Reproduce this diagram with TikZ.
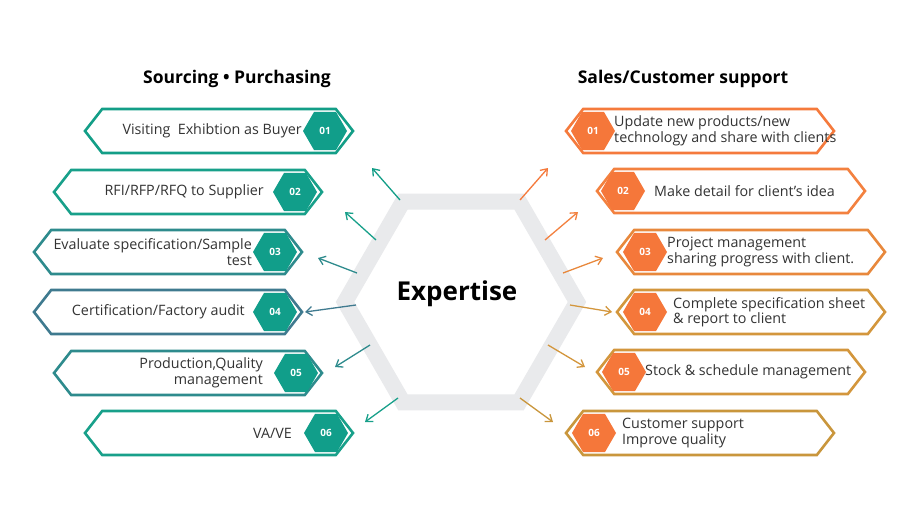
\documentclass[tikz,border=0pt]{standalone}
\usepackage{fontspec}
\setmainfont{Open Sans}
\usetikzlibrary{shapes.symbols,shapes.geometric,arrows.meta}
\definecolor{tA}{HTML}{139E87}\definecolor{tB}{HTML}{18A08A}\definecolor{tC}{HTML}{2E8B8D}\definecolor{tD}{HTML}{3F7A8F}
\definecolor{oA}{HTML}{F57A3C}\definecolor{oB}{HTML}{F3813F}\definecolor{oC}{HTML}{E8883C}\definecolor{oD}{HTML}{D3963C}\definecolor{oE}{HTML}{C9963C}
\definecolor{teal}{HTML}{119E8A}\definecolor{orng}{HTML}{F5773A}\definecolor{hexg}{HTML}{E9EAEC}\definecolor{txt}{HTML}{333333}
\tikzset{
 box/.style={signal, signal to=west and east, signal pointer angle=104, minimum width=268pt, minimum height=44pt, line width=2.6pt, draw=#1, fill=white, inner sep=0pt},
 badge/.style={regular polygon, regular polygon sides=6, minimum size=44pt, inner sep=0pt, fill=#1, text=white, font=\bfseries\fontsize{10}{10}\selectfont},
 lbl/.style={text=txt, font=\fontsize{14.3}{15.5}\selectfont, inner sep=0pt},
 arr/.style={draw=#1, line width=1.3pt, -{Straight Barb[length=6pt,width=9pt]}},
 title/.style={font=\bfseries\fontsize{17.5}{20}\selectfont, text=black}
}
\begin{document}
\begin{tikzpicture}[x=1pt,y=-1pt]
\useasboundingbox (0,0) rectangle (920,517);
\fill[white] (0,0) rectangle (920,517);
\node[title] (t1) at (237,79) {Sourcing • Purchasing};
\node[title] (t2) at (683,79) {Sales/Customer support};
\node[regular polygon, regular polygon sides=6, minimum size=232pt, draw=hexg, line width=16pt] (hex) at (461,302) {};
\node[font=\bfseries\fontsize{26}{30}\selectfont, text=black] (ex) at (457,294) {Expertise};
% left boxes
\node[box=tA] (L1) at (219,131) {};
\node[box=tB] (L2) at (188,192) {};
\node[box=tC] (L3) at (168,252) {};
\node[box=tD] (L4) at (168,312) {};
\node[box=tC] (L5) at (188,373) {};
\node[box=tB] (L6) at (219,433) {};
\node[badge=teal] (LB1) at (325,131) {01};
\node[badge=teal] (LB2) at (295,192) {02};
\node[badge=teal] (LB3) at (275,252) {03};
\node[badge=teal] (LB4) at (275,312) {04};
\node[badge=teal] (LB5) at (296,373) {05};
\node[badge=teal] (LB6) at (326,433) {06};
\node[lbl, anchor=east] (LT1) at (302,131) {Visiting\ \ Exhibtion as Buyer};
\node[lbl, anchor=east] (LT2) at (264,192) {RFI/RFP/RFQ to Supplier};
\node[lbl, anchor=east, align=right] (LT3) at (252,252) {Evaluate specification/Sample\\test};
\node[lbl, anchor=east] (LT4) at (245,312) {Certification/Factory audit};
\node[lbl, anchor=east, align=right] (LT5) at (263,373) {Production,Quality\\management};
\node[lbl, anchor=east] (LT6) at (292,433) {VA/VE};
% right boxes
\node[box=oA] (R1) at (700,131) {};
\node[box=oB] (R2) at (731,191) {};
\node[box=oC] (R3) at (751,252) {};
\node[box=oD] (R4) at (751,312) {};
\node[box=oD] (R5) at (731,372) {};
\node[box=oE] (R6) at (700,433) {};
\node[badge=orng] (RB1) at (593,131) {01};
\node[badge=orng] (RB2) at (623,191) {02};
\node[badge=orng] (RB3) at (645,252) {03};
\node[badge=orng] (RB4) at (645,312) {04};
\node[badge=orng] (RB5) at (624,372) {05};
\node[badge=orng] (RB6) at (594,433) {06};
\node[lbl, anchor=west, align=left] (RT1) at (614,131) {Update new products/new\\technology and share with clients};
\node[lbl, anchor=west] (RT2) at (654,191) {Make detail for client’s idea};
\node[lbl, anchor=west, align=left] (RT3) at (667,252) {Project management\\sharing progress with client.};
\node[lbl, anchor=west, align=left] (RT4) at (673,312) {Complete specification sheet\\\& report to client};
\node[lbl, anchor=west] (RT5) at (645,372) {Stock \& schedule management};
\node[lbl, anchor=west, align=left] (RT6) at (622,433) {Customer support\\Improve quality};
% arrows
\coordinate (la1) at (400,200); \coordinate (lb1) at (372,168);
\coordinate (la2) at (376,240); \coordinate (lb2) at (345,212);
\coordinate (la3) at (357,273); \coordinate (lb3) at (318,258);
\coordinate (la4) at (356,305); \coordinate (lb4) at (305,312);
\coordinate (la5) at (370,345); \coordinate (lb5) at (335,367);
\coordinate (la6) at (398,398); \coordinate (lb6) at (365,422);
\draw[arr=tA] (la1) -- (lb1);
\draw[arr=tB] (la2) -- (lb2);
\draw[arr=tC] (la3) -- (lb3);
\draw[arr=tD] (la4) -- (lb4);
\draw[arr=tC] (la5) -- (lb5);
\draw[arr=tB] (la6) -- (lb6);
\coordinate (ra1) at (520,200); \coordinate (rb1) at (548,168);
\coordinate (ra2) at (545,240); \coordinate (rb2) at (578,212);
\coordinate (ra3) at (563,273); \coordinate (rb3) at (603,258);
\coordinate (ra4) at (570,305); \coordinate (rb4) at (612,312);
\coordinate (ra5) at (548,345); \coordinate (rb5) at (585,367);
\coordinate (ra6) at (520,398); \coordinate (rb6) at (553,422);
\draw[arr=oA] (ra1) -- (rb1);
\draw[arr=oB] (ra2) -- (rb2);
\draw[arr=oC] (ra3) -- (rb3);
\draw[arr=oD] (ra4) -- (rb4);
\draw[arr=oD] (ra5) -- (rb5);
\draw[arr=oE] (ra6) -- (rb6);
\end{tikzpicture}
\end{document}
